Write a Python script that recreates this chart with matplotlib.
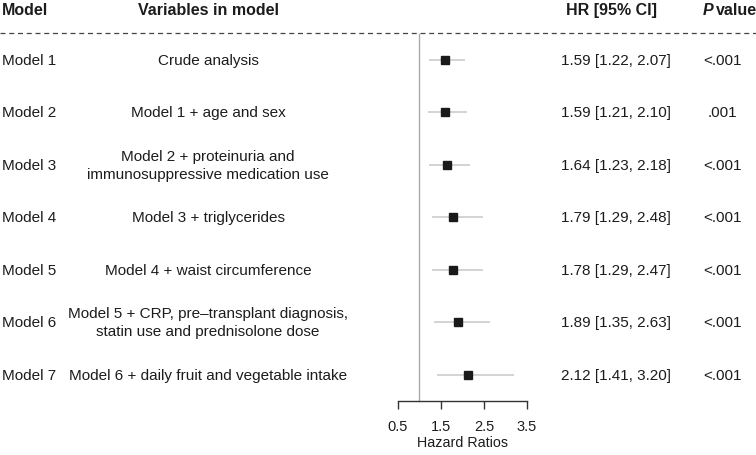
import matplotlib.pyplot as plt
from matplotlib.transforms import blended_transform_factory

plt.rcParams['font.family'] = ['Liberation Sans', 'DejaVu Sans']

# ------------------- DATA -------------------
models = ["Model 1", "Model 2", "Model 3", "Model 4", "Model 5", "Model 6", "Model 7"]
variables = [
    "Crude analysis",
    "Model 1 + age and sex",
    "Model 2 + proteinuria and\nimmunosuppressive medication use",
    "Model 3 + triglycerides",
    "Model 4 + waist circumference",
    "Model 5 + CRP, pre\u2013transplant diagnosis,\nstatin use and prednisolone dose",
    "Model 6 + daily fruit and vegetable intake",
]
hr = [1.59, 1.59, 1.64, 1.79, 1.78, 1.89, 2.12]
ci_low = [1.22, 1.21, 1.23, 1.29, 1.29, 1.35, 1.41]
ci_high = [2.07, 2.10, 2.18, 2.48, 2.47, 2.63, 3.20]
p_values = ["<.001", ".001", "<.001", "<.001", "<.001", "<.001", "<.001"]
x_ticks = [0.5, 1.5, 2.5, 3.5]
# --------------------------------------------

W, H = 756, 456
TXT = "#1c1c1c"

fig = plt.figure(figsize=(W / 100, H / 100), dpi=100)
ax = fig.add_axes([0, 0, 1, 1])

# map pixels -> data: 0.5 at x=397.7, 43.1 px per unit; rows at y=61 + i*52.45
px_per_unit = 43.1
x0 = 0.5 - 397.7 / px_per_unit
x1 = 0.5 + (W - 397.7) / px_per_unit
row_px = 52.45
y_top = -61 / row_px
y_bot = (H - 61) / row_px
ax.set_xlim(x0, x1)
ax.set_ylim(y_bot, y_top)

def py(p):
    return (p - 61) / row_px

rows = list(range(len(models)))
fx = blended_transform_factory(fig.transFigure, ax.transData)

# headers
hdr_y = py(10.5)
ax.text(2 / W, hdr_y, "Model", transform=fx, ha='left', va='center',
        fontsize=11.5, fontweight='bold', color=TXT)
ax.text(208 / W, hdr_y, "Variables in model", transform=fx, ha='center', va='center',
        fontsize=11.5, fontweight='bold', color=TXT)
ax.text(611.5 / W, hdr_y, "HR [95% CI]", transform=fx, ha='center', va='center',
        fontsize=11.5, fontweight='bold', color=TXT)
ax.text(713 / W, hdr_y, "P", transform=fx, ha='right', va='center',
        fontsize=11.5, fontweight='bold', fontstyle='italic', color=TXT)
ax.text(716 / W, hdr_y, "value", transform=fx, ha='left', va='center',
        fontsize=11.5, fontweight='bold', color=TXT)

# dashed separator
ax.plot([x0, x1], [py(33.5)] * 2, color="#444444", lw=0.9,
        linestyle=(0, (4, 3)), solid_capstyle='butt')

# reference line at HR = 1
ax.plot([1, 1], [py(35), py(401.7)], color="#aaaaaa", lw=1.0)

# CIs and point estimates
ax.hlines(rows, ci_low, ci_high, color="#c8c8c8", lw=1.1, zorder=2)
ax.plot(hr, rows, 's', color="#1a1a1a", markersize=5.6, zorder=3)

# text columns
for i in rows:
    ax.text(2 / W, i, models[i], transform=fx, ha='left', va='center',
            fontsize=11, color=TXT)
    ax.text(208 / W, i, variables[i], transform=fx, ha='center', va='center',
            fontsize=11, color=TXT, linespacing=1.4)
    ax.text(616 / W, i, f"{hr[i]:.2f} [{ci_low[i]:.2f}, {ci_high[i]:.2f}]",
            transform=fx, ha='center', va='center', fontsize=11, color=TXT)
    ax.text(722 / W, i, p_values[i], transform=fx, ha='center', va='center',
            fontsize=11, color=TXT)

# bottom axis
for s in ['top', 'left', 'right']:
    ax.spines[s].set_visible(False)
ax.spines['bottom'].set_position(('data', py(401.7)))
ax.spines['bottom'].set_bounds(x_ticks[0], x_ticks[-1])
ax.spines['bottom'].set_color("#333333")
ax.spines['bottom'].set_linewidth(1.0)
ax.set_xticks(x_ticks)
ax.set_xticklabels([str(t) for t in x_ticks])
ax.tick_params(axis='x', direction='out', length=6, width=1.0, color="#333333",
               labelsize=10.5, labelcolor=TXT, pad=7)
ax.set_yticks([])
ax.text(2.0, py(443), "Hazard Ratios", ha='center', va='center',
        fontsize=10.3, color=TXT)

fig.savefig("out.png", dpi=100)
